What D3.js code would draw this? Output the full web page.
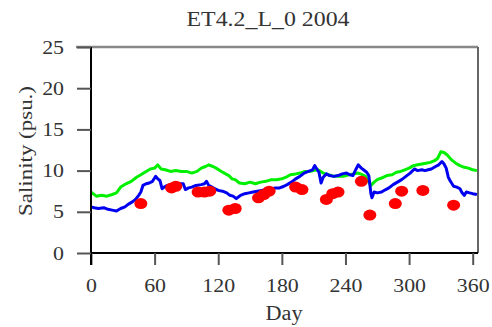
<!DOCTYPE html>
<html><head><meta charset="utf-8">
<script src="https://cdn.jsdelivr.net/npm/d3@7"></script>
<style>html,body{margin:0;padding:0;background:#fff;}svg{display:block;}</style>
</head><body>
<script>
const title = "ET4.2_L_0 2004";
const xLabel = "Day";
const yLabel = "Salinity (psu.)";
const xTicks = [0, 60, 120, 180, 240, 300, 360];
const yTicks = [0, 5, 10, 15, 20, 25];

// green (upper) series: [day, salinity]
const greenSeries = [
[0,7.4],[2,7.2],[5,6.9],[10,7.0],[15,6.9],[20,7.1],[24,7.3],[28,8.0],[33,8.4],[38,8.7],[43,9.2],[47,9.5],[52,9.9],[56,10.2],[60,10.3],[63,10.7],[66,10.2],[70,10.1],[75,9.9],[80,10.0],[85,9.9],[90,9.9],[95,9.7],[100,9.9],[104,10.3],[108,10.5],[111,10.7],[115,10.5],[118,10.3],[123,9.9],[127,9.6],[130,9.4],[133,9.0],[136,8.9],[140,8.5],[145,8.4],[150,8.6],[155,8.4],[160,8.6],[165,8.7],[170,8.9],[175,8.9],[180,9.0],[184,9.2],[188,9.5],[193,9.6],[197,9.7],[202,9.9],[206,9.9],[210,10.0],[214,10.1],[219,9.7],[224,9.5],[229,9.3],[234,9.3],[238,9.3],[243,9.5],[248,9.6],[252,9.7],[256,9.5],[259,9.3],[262,8.6],[264,8.2],[267,8.6],[270,8.9],[274,9.1],[279,9.4],[284,9.5],[288,9.8],[292,9.9],[296,10.1],[300,10.3],[304,10.6],[308,10.7],[312,10.8],[316,10.9],[320,11.0],[324,11.2],[327,11.5],[330,12.3],[333,12.2],[336,11.9],[340,11.3],[344,10.9],[348,10.6],[352,10.4],[356,10.3],[360,10.1],[364,10.0]
];

// blue (lower) series: [day, salinity]
const blueSeries = [
[0,5.6],[3,5.5],[7,5.4],[12,5.5],[16,5.3],[20,5.2],[24,5.1],[28,5.4],[32,5.6],[35,5.9],[39,6.2],[42,6.5],[45,7.0],[47,7.4],[49,8.2],[52,8.4],[55,8.5],[58,8.7],[61,9.3],[63,9.0],[65,8.8],[67,7.8],[69,8.0],[72,8.2],[76,8.3],[80,8.2],[84,8.4],[87,8.4],[89,7.7],[92,7.9],[95,8.0],[99,8.2],[104,8.3],[107,8.4],[109,8.7],[111,8.2],[114,8.0],[117,7.8],[120,7.6],[124,7.5],[128,7.3],[131,7.0],[134,6.9],[137,6.6],[139,6.8],[141,7.0],[145,7.2],[149,7.3],[153,7.4],[157,7.5],[161,7.6],[165,7.7],[170,7.8],[174,7.9],[178,7.9],[182,8.1],[185,8.3],[189,8.6],[193,9.0],[197,9.3],[201,9.7],[205,9.9],[209,10.1],[211,10.6],[213,10.2],[215,9.8],[217,8.5],[219,9.2],[222,9.6],[225,9.4],[229,9.3],[233,9.4],[237,9.6],[241,9.7],[244,9.5],[247,9.4],[250,10.2],[252,10.7],[255,10.3],[257,10.1],[260,9.8],[262,9.4],[264,7.2],[265,6.7],[267,7.4],[270,7.3],[274,7.4],[278,7.7],[281,7.9],[285,8.3],[289,8.6],[293,8.9],[297,9.3],[301,9.7],[305,10.2],[308,10.0],[312,10.1],[315,10.0],[318,10.1],[321,10.2],[325,10.5],[328,10.7],[331,11.1],[333,10.8],[335,10.3],[337,9.2],[339,8.7],[342,8.1],[345,8.0],[348,7.8],[350,7.3],[352,7.0],[354,7.4],[357,7.3],[360,7.2],[364,7.1]
];

// red observations
const obsDays = [47, 76, 80, 101, 107, 112, 130, 136, 158, 163, 168, 193, 199, 222, 228, 233, 255, 263, 287, 293, 313, 342];
const obsVals = [6.0, 7.9, 8.1, 7.4, 7.4, 7.5, 5.2, 5.4, 6.7, 7.1, 7.5, 8.0, 7.7, 6.5, 7.2, 7.4, 8.7, 4.6, 6.0, 7.5, 7.6, 5.8];

const W = 492, H = 327;
const L = 91, R = 478, T = 47, B = 253;
const font = "'Liberation Serif','Times New Roman',serif";

const svg = d3.select("body").append("svg").attr("width", W).attr("height", H);
const x = d3.scaleLinear().domain([0, 365]).range([L, R]);
const y = d3.scaleLinear().domain([0, 25]).range([B, T]);

// frame (top/right)
svg.append("line").attr("x1", 76).attr("x2", R).attr("y1", T).attr("y2", T).attr("stroke", "#888").attr("stroke-width", 2.5);
svg.append("line").attr("x1", R).attr("x2", R).attr("y1", T).attr("y2", B).attr("stroke", "#666").attr("stroke-width", 2);

const line = d3.line().x(d => x(d[0])).y(d => y(d[1]));
svg.append("path").datum(greenSeries).attr("d", line).attr("fill", "none").attr("stroke", "#00f000").attr("stroke-width", 3).attr("stroke-linejoin", "round");
svg.append("path").datum(blueSeries).attr("d", line).attr("fill", "none").attr("stroke", "#0000f0").attr("stroke-width", 3).attr("stroke-linejoin", "round");

svg.append("g").selectAll("ellipse").data(obsDays.map((d, i) => [d, obsVals[i]])).join("ellipse")
  .attr("cx", d => x(d[0])).attr("cy", d => y(d[1])).attr("rx", 6.5).attr("ry", 5.5).attr("fill", "#ff0000");

// axes
const xAxis = d3.axisBottom(x).tickValues(xTicks).tickSize(12).tickPadding(14);
const gx = svg.append("g").attr("transform", `translate(0,${B})`).call(xAxis);
const yAxis = d3.axisLeft(y).tickValues(yTicks).tickSize(14).tickPadding(13);
const gy = svg.append("g").attr("transform", `translate(${L},0)`).call(yAxis);
[gx, gy].forEach(g => {
  g.select(".domain").attr("stroke", "#000").attr("stroke-width", 2);
  g.selectAll(".tick line").attr("stroke", "#555").attr("stroke-width", 2);
  g.selectAll(".tick text").attr("font-family", font).attr("font-size", 19).attr("fill", "#333")
    .each(function () {
      const w = this.getComputedTextLength();
      d3.select(this).attr("textLength", w * 1.15).attr("lengthAdjust", "spacingAndGlyphs");
    });
});
gx.select(".domain").attr("d", `M${L},0H${R}`);
gy.select(".domain").attr("d", `M0,${B + 12}V${T}`);

svg.append("text").attr("x", 268).attr("y", 26).attr("text-anchor", "middle").attr("font-family", font).attr("font-size", 20).attr("fill", "#333")
  .attr("textLength", 163).attr("lengthAdjust", "spacingAndGlyphs").text(title);
svg.append("text").attr("x", 284).attr("y", 320).attr("text-anchor", "middle").attr("font-family", font).attr("font-size", 20).attr("fill", "#333")
  .attr("textLength", 37).attr("lengthAdjust", "spacingAndGlyphs").text(xLabel);
svg.append("text").attr("transform", "translate(32,151) rotate(-90)").attr("text-anchor", "middle").attr("font-family", font).attr("font-size", 18).attr("fill", "#333")
  .attr("textLength", 130).attr("lengthAdjust", "spacingAndGlyphs").text(yLabel);
</script>
</body></html>
